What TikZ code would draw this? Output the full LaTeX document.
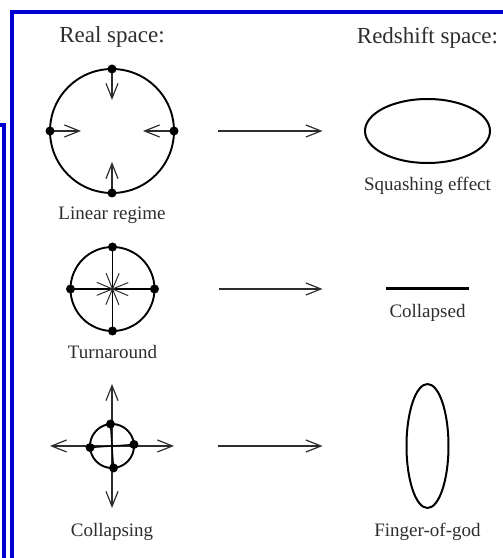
\documentclass[tikz,border=0pt]{standalone}
\usepackage{fontspec}
\setmainfont{Liberation Serif}
\usepackage{xcolor}
\usepackage{tikz}
\usetikzlibrary{shapes,arrows.meta,positioning,calc}

\definecolor{frameblue}{RGB}{0,0,210}
\definecolor{inkgray}{RGB}{45,45,45}

\begin{document}
\begin{tikzpicture}[
    x=1pt, y=1pt,
    >={Straight Barb[length=15pt, width=12pt]},
    sphere/.style={
        circle, draw=black, line width=1.9pt,
        inner sep=0pt, outer sep=0pt
    },
    blob/.style={
        ellipse, draw=black, line width=2pt,
        inner sep=0pt, outer sep=0pt
    },
    dot/.style={circle, fill=black, inner sep=0pt, minimum size=9pt},
    vel/.style={->, line width=1.2pt, draw=inkgray},
    spoke/.style={line width=1pt, draw=inkgray},
    map/.style={->, line width=1.2pt, draw=inkgray,
        shorten <=106pt, shorten >=105pt},
    title/.style={font=\fontsize{23}{27}\selectfont, text=inkgray, inner sep=0pt},
    caption/.style={font=\fontsize{19}{23}\selectfont, text=inkgray, inner sep=0pt}
]

    \useasboundingbox (0,0) rectangle (503,558);

    % Slide frame
    \begin{scope}
        \clip (0,0) rectangle (503,558);
        \draw [frameblue, line width=4pt] (-20,433) -| (4,-20);
        \draw [frameblue, line width=4pt] (12,-20) |- (540,546);
    \end{scope}

    % Real space
    \node [sphere, minimum size=124pt] (lin) at (112,427) {};
    \node [sphere, minimum size=84pt] (turn) at (112.5,269) {};
    \node [sphere, minimum size=44pt] (col) at (112,112) {};
    \node [title, above=21pt of lin] (real) {Real space:};

    % Redshift space
    \node [blob, minimum width=125pt, minimum height=64pt] (squash) at (427.5,427) {};
    \node [fill=black, minimum width=83pt, minimum height=3pt,
           inner sep=0pt] (flat) at (427.5,269) {};
    \node [blob, minimum width=42pt, minimum height=124pt] (finger) at (427.5,112) {};
    \node [title] (red) at (squash |- real) {Redshift space:};

    % Labels
    \node [caption, below=14pt of lin] (linlbl) {Linear regime};
    \node [caption, below=14pt of squash] (squashlbl) {Squashing effect};
    \node [caption, below=14pt of turn] (turnlbl) {Turnaround};
    \node [caption, below=13pt of flat] (flatlbl) {Collapsed};

    % Linear regime: infall
    \foreach \s in {north,south,east,west} {
        \draw [vel, shorten >=31pt] (lin.\s) -- (lin.center);
        \node [dot] (lin-\s) at (lin.\s) {};
    }

    % Turnaround: at rest
    \draw [line width=1.3pt] (turn.north) -- (turn.south);
    \draw [line width=1.3pt] (turn.west) -- (turn.east);
    \foreach \a in {22.5,67.5,...,337.5}
        \draw [spoke, shorten >=25pt] (turn.center) -- (turn.\a);
    \foreach \s in {north,south,east,west}
        \node [dot] (turn-\s) at (turn.\s) {};

    % Collapsing: outflow
    \coordinate (cup) at ([yshift=62pt]col.center);
    \coordinate (cdown) at ([yshift=-62pt]col.center);
    \coordinate (cleft) at ([xshift=-62pt]col.center);
    \coordinate (cright) at ([xshift=62pt]col.center);
    \draw [vel, <->] (cleft) -- (cright);
    \draw [vel, <->] (cdown) -- (cup);
    \draw [line width=1.3pt] (col.94) -- (col.274);
    \draw [line width=1.3pt] (col.4) -- (col.184);
    \foreach \a in {4,94,184,274}
        \node [dot] (col-\a) at (col.\a) {};
    \node [caption, below=15pt of cdown] (collbl) {Collapsing};
    \node [caption, below=15pt of finger] (fingerlbl) {Finger-of-god};

    % Arrows
    \draw [map] (lin.center) -- (squash.center);
    \draw [map] (turn.center) -- (flat.center);
    \draw [map] (col.center) -- (finger.center);

\end{tikzpicture}
\end{document}
